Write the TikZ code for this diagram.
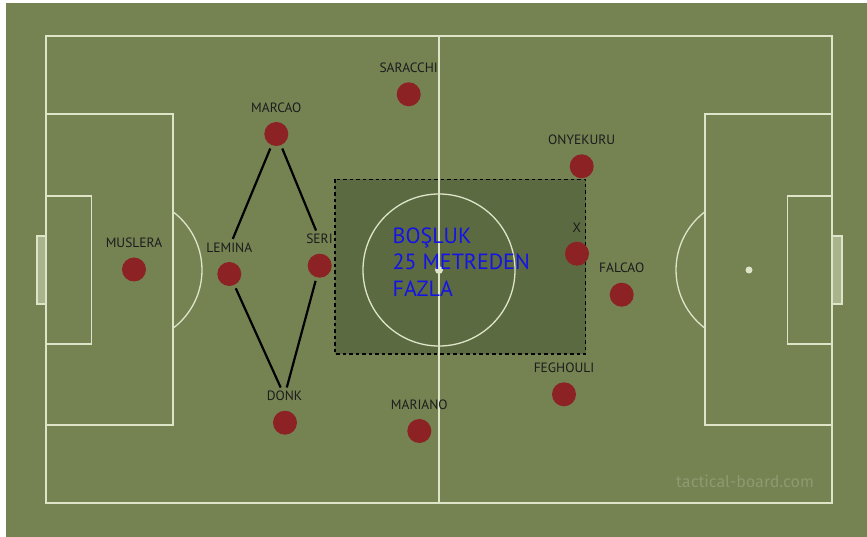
\documentclass[tikz,border=0pt]{standalone}
\usepackage{fontspec}
\newfontfamily\labfont{PT Sans}
\newfontfamily\wmfont{Fira Sans}
\definecolor{grass}{RGB}{117,131,83}
\definecolor{zone}{RGB}{91,106,64}
\definecolor{chalk}{RGB}{222,228,200}
\definecolor{goalfill}{RGB}{168,180,140}
\definecolor{playerred}{RGB}{140,34,36}
\definecolor{labc}{RGB}{28,28,28}
\definecolor{wmc}{RGB}{140,154,110}
\definecolor{zoneblue}{RGB}{20,20,230}
\begin{document}
\begin{tikzpicture}[x=1pt,y=-1pt,
  chalkline/.style={draw=chalk, line width=1.3pt},
  playerdot/.style={circle, fill=playerred, minimum size=24pt, inner sep=0pt},
  plabel/.style={font=\labfont\fontsize{13.5}{13.5}\selectfont, text=labc, inner sep=1.5pt},
  zonetext/.style={font=\labfont\fontsize{22}{22}\selectfont, text=zoneblue, anchor=base west, inner sep=0pt},
  link/.style={draw=black, line width=2.2pt, shorten <=3.5pt, shorten >=2pt}]
\useasboundingbox (0,0) rectangle (867,537);
\fill[white] (0,0) rectangle (867,537);
\fill[grass] (6,3) rectangle (867,537);
% zone
\fill[zone] (335,179.5) rectangle (585.5,354);
% pitch
\draw[chalkline] (46,36) rectangle (832,503);
\draw[chalkline] (439,36) -- (439,503);
\draw[chalkline] (439,270) circle (76);
\fill[chalk] (439,270) circle (4);
\draw[chalkline] (46,114) rectangle (173,425);
\draw[chalkline] (46,196) rectangle (91.5,344);
\draw[chalkline, fill=goalfill] (37,236) rectangle (46,304);
\draw[chalkline] (129,270) ++(-52.9:73) arc[start angle=-52.9, end angle=52.9, radius=73];
\draw[chalkline] (705,114) rectangle (832,425);
\draw[chalkline] (787.5,196) rectangle (832,344);
\draw[chalkline, fill=goalfill] (832,236) rectangle (842,304);
\draw[chalkline] (749,270) ++(127.1:73) arc[start angle=127.1, end angle=232.9, radius=73];
\fill[chalk] (749,270) circle (3.5);
% dashed zone border
\draw[black, line width=1.3pt, dash pattern=on 3.5pt off 3pt] (335,179.5) rectangle (585.5,354);
% zone text
\node[zonetext] (z1) at (392.5,244) {BOŞLUK};
\node[zonetext] (z2) at (392.5,270) {25 METREDEN};
\node[zonetext] (z3) at (392.5,296.5) {FAZLA};
% watermark
\node[font=\wmfont\fontsize{16.2}{16.2}\selectfont, text=wmc, anchor=base west, inner sep=0pt] (wm) at (676,487) {tactical-board.com};
% players
\node[playerdot] (muslera) at (134,269.5) {};
\node[plabel] (muslera-l) at (134,242.7) {MUSLERA};
\node[playerdot] (lemina) at (229.3,274) {};
\node[plabel] (lemina-l) at (229.3,247.3) {LEMINA};
\node[playerdot] (marcao) at (276.3,134) {};
\node[plabel] (marcao-l) at (276.3,107.3) {MARCAO};
\node[playerdot] (seri) at (319.7,265.7) {};
\node[plabel] (seri-l) at (319.5,239) {SERI};
\node[playerdot] (donk) at (285,422.7) {};
\node[plabel] (donk-l) at (284.5,396) {DONK};
\node[playerdot] (saracchi) at (408.7,94.3) {};
\node[plabel] (saracchi-l) at (408.7,67.3) {SARACCHI};
\node[playerdot] (mariano) at (419.3,431) {};
\node[plabel] (mariano-l) at (419.3,404.3) {MARIANO};
\node[playerdot] (onyekuru) at (581.7,166.3) {};
\node[plabel] (onyekuru-l) at (581.7,139.3) {ONYEKURU};
\node[playerdot] (x) at (577,253.7) {};
\node[plabel] (x-l) at (576.7,227.3) {X};
\node[playerdot] (falcao) at (621.7,294.7) {};
\node[plabel] (falcao-l) at (621.7,267.3) {FALCAO};
\node[playerdot] (feghouli) at (564,394.3) {};
\node[plabel] (feghouli-l) at (564,367.3) {FEGHOULI};
% diamond links
\draw[link] (marcao) -- (lemina-l);
\draw[link] (marcao) -- (seri-l);
\draw[link] (lemina) -- (donk-l);
\draw[link] (seri) -- (donk-l);
\end{tikzpicture}
\end{document}
